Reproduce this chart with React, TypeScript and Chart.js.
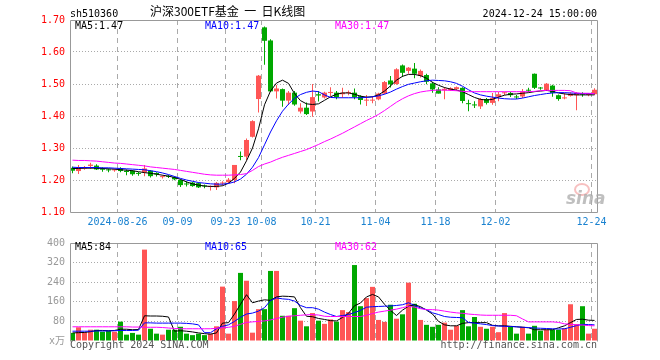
import React, { useEffect, useRef } from "react";
import { Chart, registerables } from "chart.js";

Chart.register(...registerables);

// ---------- data ----------
const tickIdx = [8, 18, 26, 32, 41, 51, 61, 71, 87];
const tickLabels = ["2024-08-26", "09-09", "09-23", "10-08", "10-21", "11-04", "11-18", "12-02", "12-24"];
const priceTicks = [1.1, 1.2, 1.3, 1.4, 1.5, 1.6, 1.7];
const volTicks = [0, 80, 160, 240, 320, 400];

const open = [1.238,1.228,1.236,1.244,1.245,1.235,1.233,1.230,1.236,1.229,
1.229,1.222,1.224,1.229,1.222,1.209,1.212,1.209,1.200,1.189,
1.192,1.190,1.183,1.178,1.177,1.189,1.193,1.200,1.274,1.273,
1.335,1.453,1.677,1.636,1.477,1.484,1.448,1.473,1.414,1.426,
1.414,1.468,1.458,1.472,1.473,1.468,1.472,1.473,1.462,1.448,
1.448,1.452,1.470,1.511,1.500,1.558,1.541,1.548,1.525,1.528,
1.502,1.483,1.480,1.481,1.484,1.488,1.440,1.436,1.430,1.453,
1.441,1.460,1.471,1.472,1.460,1.461,1.481,1.532,1.489,1.480,
1.495,1.465,1.455,1.463,1.465,1.470,1.466,1.468];
const high = [1.242,1.247,1.244,1.254,1.249,1.240,1.236,1.235,1.240,1.233,
1.231,1.225,1.247,1.231,1.224,1.214,1.216,1.212,1.202,1.196,
1.194,1.192,1.186,1.183,1.194,1.196,1.206,1.247,1.289,1.330,
1.387,1.528,1.680,1.640,1.497,1.486,1.478,1.478,1.440,1.442,
1.500,1.478,1.476,1.490,1.478,1.488,1.480,1.486,1.465,1.466,
1.462,1.473,1.509,1.525,1.549,1.561,1.553,1.566,1.545,1.532,
1.507,1.490,1.490,1.490,1.492,1.490,1.451,1.446,1.456,1.456,
1.472,1.475,1.476,1.476,1.466,1.484,1.488,1.533,1.491,1.503,
1.498,1.467,1.472,1.474,1.474,1.474,1.470,1.487];
const low = [1.221,1.219,1.232,1.234,1.231,1.226,1.224,1.226,1.224,1.215,
1.213,1.213,1.212,1.208,1.211,1.205,1.206,1.199,1.178,1.180,
1.179,1.175,1.174,1.167,1.169,1.183,1.190,1.190,1.262,1.262,
1.333,1.411,1.560,1.475,1.455,1.429,1.434,1.432,1.408,1.403,
1.398,1.445,1.455,1.462,1.452,1.457,1.465,1.452,1.436,1.431,
1.440,1.449,1.468,1.489,1.498,1.522,1.532,1.518,1.520,1.499,
1.473,1.470,1.452,1.478,1.480,1.440,1.415,1.425,1.422,1.436,
1.435,1.446,1.466,1.459,1.453,1.456,1.474,1.484,1.482,1.478,
1.460,1.448,1.452,1.461,1.418,1.460,1.462,1.466];
const close = [1.229,1.236,1.240,1.248,1.233,1.232,1.230,1.232,1.228,1.225,
1.218,1.219,1.236,1.212,1.218,1.211,1.210,1.202,1.184,1.186,
1.181,1.177,1.180,1.180,1.191,1.192,1.201,1.247,1.272,1.325,
1.384,1.526,1.635,1.477,1.486,1.448,1.473,1.436,1.426,1.406,
1.459,1.464,1.473,1.475,1.459,1.473,1.475,1.459,1.450,1.451,
1.451,1.470,1.506,1.499,1.546,1.535,1.551,1.532,1.541,1.507,
1.483,1.470,1.485,1.487,1.490,1.447,1.437,1.433,1.453,1.441,
1.456,1.468,1.473,1.465,1.458,1.477,1.479,1.488,1.486,1.501,
1.472,1.453,1.457,1.470,1.472,1.467,1.467,1.482];

const priceMa5 = [1.236,1.236,1.237,1.237,1.237,1.236,1.235,1.234,1.232,1.231,
1.229,1.226,1.223,1.221,1.218,1.215,1.212,1.208,1.202,1.194,
1.188,1.184,1.181,1.180,1.180,1.182,1.190,1.205,1.225,1.260,
1.300,1.360,1.435,1.478,1.503,1.512,1.502,1.470,1.448,1.438,
1.436,1.438,1.449,1.460,1.468,1.472,1.472,1.468,1.462,1.459,
1.460,1.466,1.478,1.494,1.512,1.524,1.530,1.530,1.526,1.518,
1.505,1.496,1.489,1.484,1.481,1.476,1.467,1.458,1.452,1.450,
1.452,1.459,1.465,1.468,1.469,1.471,1.473,1.476,1.478,1.480,
1.477,1.472,1.469,1.467,1.466,1.466,1.466,1.466];
const priceMa10 = [1.240,1.239,1.239,1.239,1.239,1.238,1.238,1.237,1.236,1.235,
1.234,1.233,1.232,1.229,1.226,1.222,1.217,1.211,1.205,1.200,
1.196,1.192,1.190,1.188,1.187,1.187,1.189,1.194,1.203,1.218,
1.240,1.270,1.310,1.350,1.385,1.415,1.437,1.455,1.467,1.474,
1.478,1.476,1.466,1.458,1.457,1.457,1.457,1.457,1.457,1.458,
1.460,1.463,1.468,1.475,1.484,1.492,1.499,1.503,1.507,1.510,
1.512,1.511,1.510,1.507,1.502,1.493,1.482,1.472,1.466,1.462,
1.459,1.456,1.454,1.453,1.453,1.456,1.460,1.464,1.467,1.470,
1.472,1.473,1.473,1.472,1.471,1.470,1.470,1.470];
const priceMa30 = [1.262,1.261,1.261,1.260,1.259,1.257,1.255,1.253,1.252,1.250,
1.248,1.246,1.244,1.241,1.239,1.237,1.235,1.233,1.230,1.227,
1.224,1.221,1.218,1.216,1.215,1.215,1.215,1.216,1.217,1.220,
1.230,1.242,1.250,1.256,1.264,1.271,1.277,1.283,1.289,1.295,
1.303,1.311,1.320,1.328,1.337,1.346,1.356,1.366,1.376,1.386,
1.395,1.405,1.417,1.430,1.443,1.454,1.463,1.470,1.475,1.478,
1.480,1.481,1.481,1.480,1.479,1.477,1.476,1.476,1.476,1.476,
1.476,1.476,1.476,1.476,1.476,1.476,1.476,1.477,1.479,1.480,
1.480,1.480,1.480,1.479,1.472,1.471,1.471,1.470];

const volume = [33,56,36,46,46,38,42,38,79,26,
33,26,373,50,30,26,46,46,58,30,
24,30,24,30,60,222,30,163,278,246,
34,130,130,286,286,103,103,134,83,60,
114,83,70,88,79,126,118,310,142,175,
221,86,78,148,91,109,238,152,86,66,
58,66,75,46,62,126,60,98,58,50,
58,36,114,58,30,58,30,62,42,46,
46,46,52,150,69,142,30,50];
const volMa5 = [33,34,35,38,43,43,42,43,48,48,
46,47,103,102,102,101,98,40,42,40,
37,33,30,28,33,73,75,110,150,189,
156,163,168,166,180,183,182,180,136,101,
99,92,88,83,82,96,113,144,155,180,
190,180,150,125,104,126,142,148,140,126,
110,80,66,62,62,72,75,75,75,75,
64,62,62,60,58,56,54,46,46,46,
46,54,62,75,88,89,85,84];
const volMa10 = [40,40,40,40,41,41,41,42,43,43,
43,44,74,74,73,73,73,73,73,72,
70,66,34,34,50,60,66,80,97,110,
114,122,136,165,176,172,170,163,145,136,
136,130,118,108,100,104,108,116,125,138,
140,141,142,143,145,148,156,145,135,128,
115,108,100,97,96,95,76,73,70,67,
63,61,60,59,58,56,55,53,52,51,
50,49,50,56,63,68,67,66];
const volMa30 = [58,58,58,58,58,58,58,58,58,58,
57,57,56,56,56,55,53,51,50,50,
50,50,50,50,52,54,56,60,68,76,
78,80,82,86,92,97,101,103,105,107,
108,106,101,100,100,100,100,100,100,105,
112,118,122,126,130,136,142,138,132,128,
128,126,122,118,115,113,110,108,106,105,
105,105,105,105,103,90,78,78,78,78,
78,76,70,68,66,65,63,62];

// ---------- styling ----------
const RED = "#ff5555";
const GREEN = "#00a800";
const MONO = "'DejaVu Sans Mono', 'Noto Sans CJK SC', monospace";
const X_MIN = -0.4167;
const X_MAX = X_MIN + 527 / 6;

const idx = open.map((_, i) => i);
const isUp = (i: number) => close[i] >= open[i];
const candleColors = idx.map((i) => (isUp(i) ? RED : GREEN));

const framePlugin = (bottomLine: boolean) => ({
  id: "frame",
  afterDraw(chart: any) {
    const { ctx, chartArea } = chart;
    const l = Math.floor(chartArea.left) + 0.5;
    const r = Math.floor(chartArea.right) + 0.5;
    const t = Math.floor(chartArea.top) + 0.5;
    const b = Math.floor(chartArea.bottom) + 0.5;
    ctx.save();
    ctx.strokeStyle = "#999";
    ctx.lineWidth = 1;
    ctx.setLineDash([]);
    ctx.beginPath();
    if (bottomLine) {
      ctx.moveTo(l, b);
      ctx.lineTo(r, b);
    }
    ctx.moveTo(l, b);
    ctx.lineTo(l, t);
    ctx.lineTo(r, t);
    ctx.lineTo(r, b);
    ctx.stroke();
    ctx.restore();
  },
});

const xScale = (showLabels: boolean) => ({
  type: "linear",
  min: X_MIN,
  max: X_MAX,
  offset: false,
  afterBuildTicks: (s: any) => {
    s.ticks = tickIdx.map((i) => ({ value: i - 0.5 }));
  },
  afterFit: (s: any) => {
    s.height = showLabels ? 20 : 0;
  },
  grid: { display: true, color: "#aaa", lineWidth: 1, drawTicks: false, offset: false },
  border: { display: false, dash: [5, 4] },
  ticks: {
    display: showLabels,
    autoSkip: false,
    maxRotation: 0,
    padding: 4,
    color: "#1a82d0",
    font: { family: MONO, size: 10 },
    callback: (v: number) => {
      const k = tickIdx.indexOf(Math.round(v + 0.5));
      return k >= 0 ? tickLabels[k] : "";
    },
  },
});

const lineDs = (vals: number[], color: string) => ({
  type: "line",
  data: idx.map((i) => ({ x: i, y: vals[i] })),
  borderColor: color,
  borderWidth: 1,
  pointRadius: 0,
  tension: 0,
  fill: false,
  order: 1,
});

function priceConfig(): any {
  return {
    type: "bar",
    data: {
      datasets: [
        {
          type: "bar",
          data: idx.map((i) => ({ x: i, y: [low[i], high[i]] })),
          backgroundColor: candleColors,
          barThickness: 1,
          grouped: false,
          borderWidth: 0,
          inflateAmount: 0,
          order: 3,
        },
        {
          type: "bar",
          data: idx.map((i) => ({ x: i, y: [open[i], close[i]] })),
          backgroundColor: candleColors,
          barThickness: 5,
          minBarLength: 1,
          grouped: false,
          borderWidth: 0,
          inflateAmount: 0,
          order: 2,
        },
        lineDs(priceMa30, "#ff00ff"),
        lineDs(priceMa10, "#0000ff"),
        lineDs(priceMa5, "#000000"),
      ],
    },
    options: {
      responsive: false,
      animation: false,
      events: [],
      layout: { padding: { left: 0, right: 63, top: 20, bottom: 0 } },
      plugins: { legend: { display: false }, tooltip: { enabled: false } },
      scales: {
        x: xScale(true),
        y: {
          type: "linear",
          min: 1.1,
          max: 1.7,
          afterBuildTicks: (s: any) => {
            s.ticks = priceTicks.map((v) => ({ value: v }));
          },
          afterFit: (s: any) => {
            s.width = 70;
          },
          grid: {
            drawTicks: false,
            lineWidth: 1,
            color: (c: any) =>
              c.index === 0 || c.index === priceTicks.length - 1 ? "rgba(0,0,0,0)" : "#aaa",
          },
          border: { display: false, dash: [1, 2] },
          ticks: {
            padding: 5,
            color: "#ff0000",
            font: { family: MONO, size: 10 },
            callback: (v: number) => Number(v).toFixed(2),
          },
        },
      },
    },
    plugins: [framePlugin(true)],
  };
}

function volConfig(): any {
  return {
    type: "bar",
    data: {
      datasets: [
        {
          type: "bar",
          data: idx.map((i) => ({ x: i, y: volume[i] })),
          backgroundColor: candleColors,
          barThickness: 5,
          grouped: false,
          borderWidth: 0,
          inflateAmount: 0,
          order: 2,
        },
        lineDs(volMa30, "#ff00ff"),
        lineDs(volMa10, "#0000ff"),
        lineDs(volMa5, "#000000"),
      ],
    },
    options: {
      responsive: false,
      animation: false,
      events: [],
      layout: { padding: { left: 0, right: 63, top: 8, bottom: 19 } },
      plugins: { legend: { display: false }, tooltip: { enabled: false } },
      scales: {
        x: xScale(false),
        y: {
          type: "linear",
          min: 0,
          max: 400,
          afterBuildTicks: (s: any) => {
            s.ticks = volTicks.map((v) => ({ value: v }));
          },
          afterFit: (s: any) => {
            s.width = 70;
          },
          grid: {
            drawTicks: false,
            lineWidth: 1,
            color: (c: any) =>
              c.index === 0 || c.index === volTicks.length - 1 ? "rgba(0,0,0,0)" : "#aaa",
          },
          border: { display: false, dash: [1, 2] },
          ticks: {
            padding: 5,
            color: "#999",
            font: { family: MONO, size: 10 },
            callback: (v: number) => (v === 0 ? "x万" : String(v)),
          },
        },
      },
    },
    plugins: [framePlugin(false)],
  };
}

const txt = (extra: React.CSSProperties): React.CSSProperties => ({
  position: "absolute",
  fontFamily: MONO,
  fontSize: 10,
  lineHeight: "10px",
  whiteSpace: "pre",
  ...extra,
});

export default function App() {
  const pRef = useRef<HTMLCanvasElement>(null);
  const vRef = useRef<HTMLCanvasElement>(null);

  useEffect(() => {
    document.body.style.margin = "0";
    const c1 = new Chart(pRef.current as HTMLCanvasElement, priceConfig());
    const c2 = new Chart(vRef.current as HTMLCanvasElement, volConfig());
    return () => {
      c1.destroy();
      c2.destroy();
    };
  }, []);

  return (
    <div style={{ position: "relative", width: 660, height: 360, background: "#fff", overflow: "hidden" }}>
      <canvas ref={pRef} width={660} height={232} style={{ position: "absolute", left: 0, top: 0, width: 660, height: 232 }} />
      <canvas ref={vRef} width={660} height={128} style={{ position: "absolute", left: 0, top: 232, width: 660, height: 128 }} />

      <div style={txt({ left: 70, top: 9, color: "#000" })}>sh510360</div>
      <div
        style={txt({
          left: 150,
          top: 5,
          fontSize: 12,
          lineHeight: "12px",
          fontFamily: "'Noto Sans CJK SC', sans-serif",
          color: "#000",
        })}
      >
        {"沪深300ETF基金  一  日K线图"}
      </div>
      <div style={txt({ right: 63, top: 9, color: "#000" })}>2024-12-24 15:00:00</div>

      <div style={txt({ left: 75, top: 21, color: "#000" })}>MA5:1.47</div>
      <div style={txt({ left: 205, top: 21, color: "#0000ff" })}>MA10:1.47</div>
      <div style={txt({ left: 335, top: 21, color: "#ff00ff" })}>MA30:1.47</div>

      <div style={txt({ left: 75, top: 242, color: "#000" })}>MA5:84</div>
      <div style={txt({ left: 205, top: 242, color: "#0000ff" })}>MA10:65</div>
      <div style={txt({ left: 335, top: 242, color: "#ff00ff" })}>MA30:62</div>

      <div style={txt({ left: 70, top: 340, color: "#555" })}>Copyright 2024 SINA.COM</div>
      <div style={txt({ right: 63, top: 340, color: "#555" })}>http://finance.sina.com.cn</div>

      <div
        style={{
          position: "absolute",
          left: 574,
          top: 183,
          width: 12,
          height: 9,
          border: "2px solid rgba(240,140,140,0.55)",
          borderRadius: "50%",
        }}
      />
      <div
        style={txt({
          left: 566,
          top: 190,
          fontSize: 17,
          lineHeight: "17px",
          fontFamily: "'DejaVu Sans', sans-serif",
          fontWeight: "bold",
          fontStyle: "italic",
          color: "rgba(170,170,170,0.75)",
        })}
      >
        sina
      </div>
    </div>
  );
}
